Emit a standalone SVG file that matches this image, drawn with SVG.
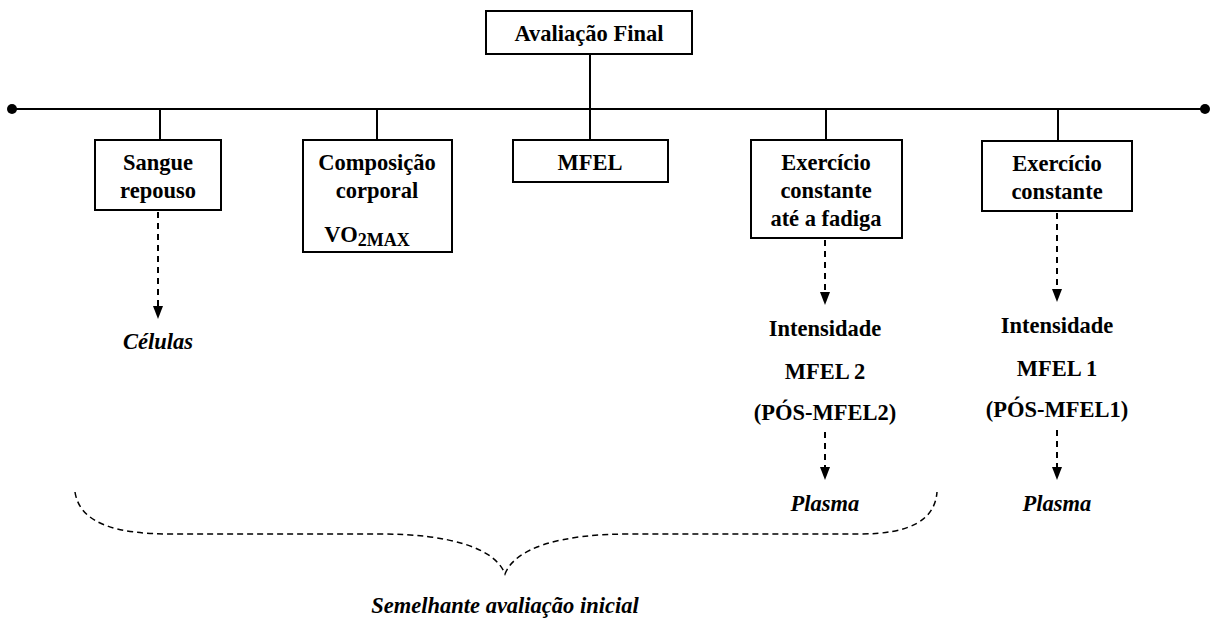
<svg xmlns="http://www.w3.org/2000/svg" width="1214" height="619" viewBox="0 0 1214 619">
<style>
.box{fill:#fff;stroke:#000;stroke-width:2}
.t{font-family:"Liberation Serif","Times New Roman",serif;font-weight:bold;font-size:22.5px;text-anchor:middle;fill:#000}
.i{font-style:italic}
.ln{stroke:#000;stroke-width:2;fill:none}
.dl{stroke:#000;stroke-width:2;fill:none;stroke-dasharray:6 5}
.br{stroke:#000;stroke-width:1.5;fill:none;stroke-dasharray:6 4}
</style>
<g id="connectors">
<line class="ln" x1="12" y1="109" x2="1205" y2="109"/>
<circle cx="12" cy="109" r="5" fill="#000"/>
<circle cx="1205" cy="109" r="5" fill="#000"/>
<line class="ln" x1="590" y1="54" x2="590" y2="140"/>
<line class="ln" x1="160" y1="109" x2="160" y2="140"/>
<line class="ln" x1="377" y1="109" x2="377" y2="140"/>
<line class="ln" x1="826" y1="109" x2="826" y2="140"/>
<line class="ln" x1="1058" y1="109" x2="1058" y2="140"/>
<line class="dl" x1="158" y1="212" x2="158" y2="308"/>
<path d="M153,306 L163,306 L158,319 Z" fill="#000"/>
<line class="dl" x1="825" y1="240" x2="825" y2="294"/>
<path d="M820,292 L830,292 L825,305 Z" fill="#000"/>
<line class="dl" x1="1057" y1="213" x2="1057" y2="291"/>
<path d="M1052,289 L1062,289 L1057,302 Z" fill="#000"/>
<line class="dl" x1="825" y1="432" x2="825" y2="469"/>
<path d="M820,467 L830,467 L825,480 Z" fill="#000"/>
<line class="dl" x1="1057" y1="430" x2="1057" y2="469"/>
<path d="M1052,467 L1062,467 L1057,480 Z" fill="#000"/>
<path class="br" d="M75,492 C80,525 120,534 170,534 L380,534 C450,534 495,548 505,574 C515,548 560,534 630,534 L860,534 C910,534 935,520 937,492"/>
</g>
<g id="n-final">
<rect class="box" x="486" y="11" width="206" height="43"/>
<text class="t" x="589" y="41">Avaliação Final</text>
</g>
<g id="n-sangue">
<rect class="box" x="95" y="140" width="126" height="70"/>
<text class="t" x="158" y="170">Sangue</text>
<text class="t" x="158" y="198">repouso</text>
</g>
<g id="n-comp">
<rect class="box" x="303" y="140" width="149" height="112"/>
<text class="t" x="377" y="170">Composição</text>
<text class="t" x="377" y="198">corporal</text>
<text class="t" x="367" y="242">VO<tspan font-size="18" dy="4">2MAX</tspan></text>
</g>
<g id="n-mfel">
<rect class="box" x="513" y="140" width="155" height="42"/>
<text class="t" x="590" y="170">MFEL</text>
</g>
<g id="n-fadiga">
<rect class="box" x="751" y="140" width="151" height="98"/>
<text class="t" x="826" y="170">Exercício</text>
<text class="t" x="826" y="198">constante</text>
<text class="t" x="826" y="226">até a fadiga</text>
</g>
<g id="n-const">
<rect class="box" x="982" y="141" width="150" height="70"/>
<text class="t" x="1057" y="171">Exercício</text>
<text class="t" x="1057" y="199">constante</text>
</g>
<g id="n-celulas">
<text class="t i" x="158" y="349">Células</text>
</g>
<g id="n-int2">
<text class="t" x="825" y="336">Intensidade</text>
<text class="t" x="825" y="379">MFEL 2</text>
<text class="t" x="825" y="420">(PÓS-MFEL2)</text>
</g>
<g id="n-plasma2">
<text class="t i" x="825" y="511">Plasma</text>
</g>
<g id="n-int1">
<text class="t" x="1057" y="333">Intensidade</text>
<text class="t" x="1057" y="376">MFEL 1</text>
<text class="t" x="1057" y="417">(PÓS-MFEL1)</text>
</g>
<g id="n-plasma1">
<text class="t i" x="1057" y="511">Plasma</text>
</g>
<g id="n-semelhante">
<text class="t i" x="505" y="613">Semelhante avaliação inicial</text>
</g>
</svg>
